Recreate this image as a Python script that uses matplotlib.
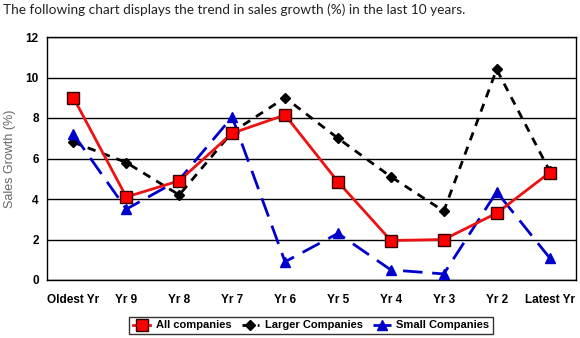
import matplotlib.pyplot as plt

years = ['Oldest Yr', 'Yr 9', 'Yr 8', 'Yr 7', 'Yr 6', 'Yr 5', 'Yr 4', 'Yr 3', 'Yr 2', 'Latest Yr']
all_companies = [9.0, 4.1, 4.9, 7.25, 8.15, 4.85, 1.95, 2.0, 3.3, 5.3]
larger_companies = [6.8, 5.8, 4.2, 7.3, 9.0, 7.0, 5.1, 3.4, 10.4, 5.4]
small_companies = [7.2, 3.5, 4.95, 8.05, 0.9, 2.3, 0.5, 0.3, 4.35, 1.1]

plt.rcParams['font.family'] = ['Liberation Sans', 'DejaVu Sans']

fig = plt.figure(figsize=(5.8, 3.38), dpi=100)
ax = fig.add_axes([47 / 580, 1 - 280 / 338, 529 / 580, 243 / 338])

x = range(len(years))
ax.plot(x, all_companies, color='#ee1111', lw=2, marker='s', markersize=8,
        markerfacecolor='#ff0000', markeredgecolor='#330000', markeredgewidth=1,
        label='All companies', zorder=4)
ax.plot(x, larger_companies, color='black', lw=2, ls=(0, (3, 2.5)), marker='D', markersize=5,
        markerfacecolor='black', label='Larger Companies', zorder=3)
ax.plot(x, small_companies, color='#0000cc', lw=2, ls=(0, (7, 3.5)), marker='^', markersize=7,
        markerfacecolor='#0000cc', markeredgecolor='#0000cc', label='Small Companies', zorder=3)

ax.set_xlim(-0.5, len(years) - 0.5)
ax.set_ylim(0, 12)
ax.set_yticks(range(0, 13, 2))
ax.set_xticks(list(x))
ax.set_xticklabels(years)
ax.tick_params(length=0, labelsize=8.5, pad=6)
ax.tick_params(axis='x', pad=10)
for lab in ax.get_xticklabels() + ax.get_yticklabels():
    lab.set_fontweight('bold')
ax.yaxis.grid(True, color='black', lw=1)
ax.set_axisbelow(True)
for s in ax.spines.values():
    s.set_color('black')
    s.set_linewidth(1)
ax.set_ylabel('Sales Growth (%)', color='#666666', fontsize=9)
ax.yaxis.set_label_coords(-31 / 529, 0.5)

leg = ax.legend(loc='center', bbox_to_anchor=(311 / 580, 1 - 325.5 / 338),
                bbox_transform=fig.transFigure, ncol=3, frameon=True, fancybox=False,
                handlelength=1.6, handletextpad=0.5, columnspacing=0.9,
                borderpad=0.35, prop={'weight': 'bold', 'size': 8})
leg.get_frame().set_edgecolor('black')
leg.get_frame().set_linewidth(1)

fig.text(3 / 580, 1 - 9.5 / 338, 'The following chart displays the trend in sales growth (%) in the last 10 years.',
         fontsize=9.8, family=['Lato', 'DejaVu Sans'], va='center', ha='left', color='#222222')

fig.savefig('out.png', dpi=100)
